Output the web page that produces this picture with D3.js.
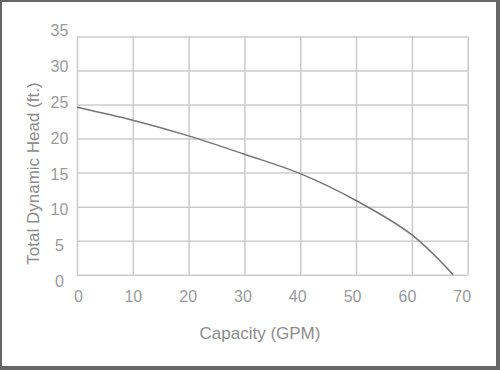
<!DOCTYPE html>
<html>
<head>
<meta charset="utf-8">
<script src="https://cdn.jsdelivr.net/npm/d3@7"></script>
<style>
  body { margin: 0; background: #fff; }
  svg { display: block; font-family: "Liberation Sans", Arial, sans-serif; }
  .tickLabel text { fill: #9a9a9a; font-size: 16px; }
  .aText { fill: #8c8c8c; font-size: 17px; text-anchor: middle; }
</style>
</head>
<body>
<div id="chart"></div>
<script>
// Pump curve
const capacity = [0, 10, 20, 30, 40, 50, 60, 67.4]
const head = [24.6, 22.7, 20.4, 17.7, 14.85, 10.9, 5.85, 0]
const xTicks = [0, 10, 20, 30, 40, 50, 60, 70]
const yTicks = [0, 5, 10, 15, 20, 25, 30, 35]

const svgWidth = 500, svgHeight = 370

const svg = d3.select("#chart")
    .append("svg")
    .attr("width", svgWidth)
    .attr("height", svgHeight)

// frame
svg.append("rect")
    .attr("width", svgWidth)
    .attr("height", svgHeight)
    .attr("fill", "#666")
svg.append("rect")
    .attr("x", 2).attr("y", 2)
    .attr("width", svgWidth - 6)
    .attr("height", svgHeight - 6)
    .attr("fill", "#fff")

const plot = { left: 77, right: 467.7, top: 36.5, bottom: 274.7 }

const xScale = d3.scaleLinear().domain([0, 70]).range([plot.left, plot.right])
const yScale = d3.scaleLinear().domain([0, 35]).range([plot.bottom, plot.top])

// labels sit on a slightly different spacing than the grid in the original
const xLabelScale = d3.scaleLinear().domain([0, 70]).range([78, 461.7])
const yLabelScale = d3.scaleLinear().domain([0, 35]).range([281.5, 30.5])

// grid
svg.append("g")
    .attr("transform", `translate(0, ${plot.bottom})`)
    .call(d3.axisBottom(xScale).tickValues(xTicks).tickSize(-(plot.bottom - plot.top)).tickFormat(""))
    .call(g => g.select(".domain").remove())
    .call(g => g.selectAll("line").attr("stroke", "#cbcbcb").attr("stroke-width", 1.5))

svg.append("g")
    .attr("transform", `translate(${plot.left}, 0)`)
    .call(d3.axisLeft(yScale).tickValues(yTicks).tickSize(-(plot.right - plot.left)).tickFormat(""))
    .call(g => g.select(".domain").remove())
    .call(g => g.selectAll("line").attr("stroke", "#cbcbcb").attr("stroke-width", 1.5))

// tick labels
svg.append("g")
    .attr("class", "tickLabel")
    .attr("transform", "translate(0, 291)")
    .call(d3.axisBottom(xLabelScale).tickValues(xTicks).tickSize(0).tickPadding(0))
    .call(g => g.select(".domain").remove())
    .call(g => g.selectAll("text").attr("font-family", null).attr("font-size", null).attr("dy", "0.71em"))

svg.append("g")
    .attr("class", "tickLabel")
    .attr("transform", "translate(59.5, 0)")
    .call(d3.axisLeft(yLabelScale).tickValues(yTicks).tickSize(0).tickPadding(0))
    .call(g => g.select(".domain").remove())
    .call(g => g.selectAll("text").attr("font-family", null).attr("font-size", null).attr("text-anchor", "middle"))

// curve
const line = d3.line()
    .x((d, i) => xScale(capacity[i]))
    .y(d => yScale(d))
    .curve(d3.curveCatmullRom.alpha(0.5))

svg.append("path")
    .datum(head)
    .attr("d", line)
    .attr("fill", "none")
    .attr("stroke", "#757575")
    .attr("stroke-width", 1.5)

// axis titles
svg.append("text")
    .attr("class", "aText")
    .attr("transform", "translate(33.5, 173.5) rotate(-90)")
    .attr("dy", "0.35em")
    .text("Total Dynamic Head (ft.)")

svg.append("text")
    .attr("class", "aText")
    .attr("x", 260)
    .attr("y", 333.5)
    .attr("dy", "0.35em")
    .text("Capacity (GPM)")
</script>
</body>
</html>
